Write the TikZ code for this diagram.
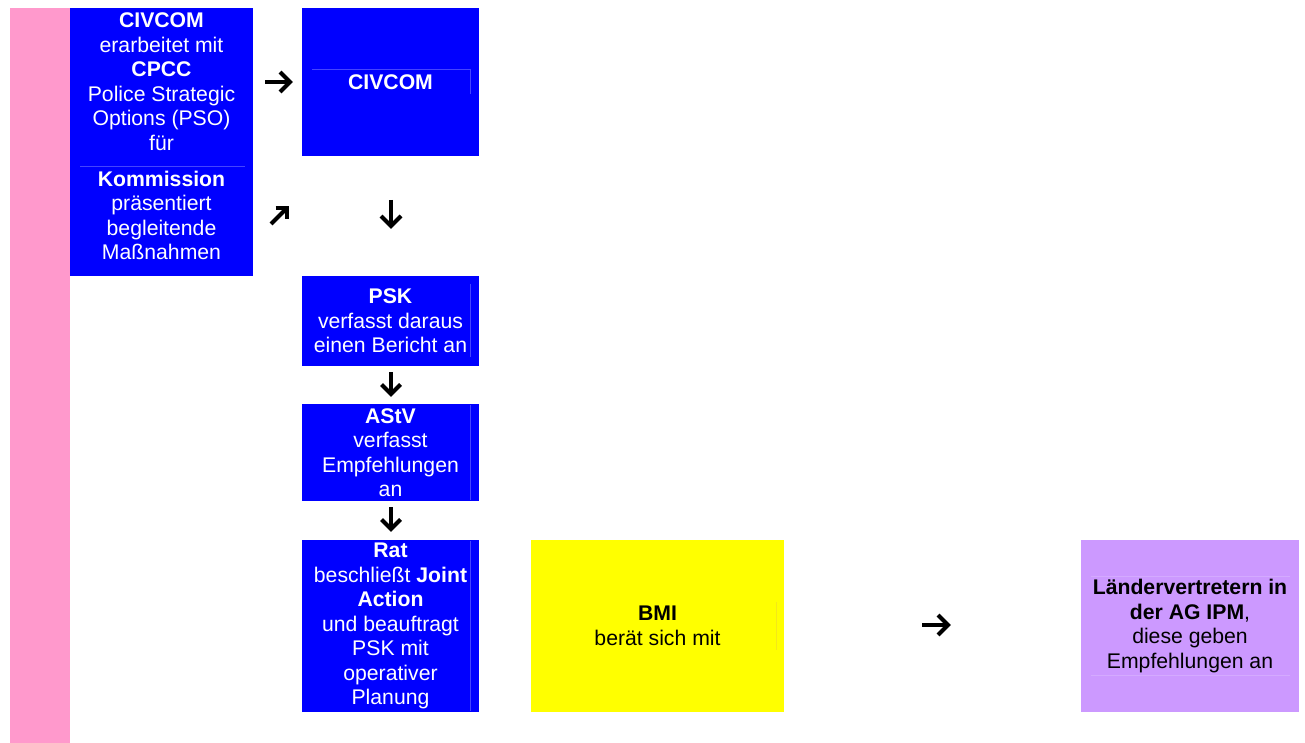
\documentclass[tikz,border=0pt]{standalone}
\usepackage{fontspec}
\setmainfont{Liberation Sans}
\definecolor{boxblue}{HTML}{0000FF}
\definecolor{barpink}{HTML}{FF99CC}
\definecolor{boxyellow}{HTML}{FFFF00}
\definecolor{boxpurple}{HTML}{CC99FF}
\definecolor{faintblue}{HTML}{4444FF}
\definecolor{faintpurple}{HTML}{D4AAFF}
\begin{document}
\begin{tikzpicture}[x=1pt,y=-1pt,
  every node/.style={font=\fontsize{21.2}{24.5}\selectfont},
  bluebox/.style={fill=boxblue,draw=none,inner sep=0pt,text=white,align=center},
  yellowbox/.style={fill=boxyellow,draw=none,inner sep=0pt,text=black,align=center},
  purplebox/.style={fill=boxpurple,draw=none,inner sep=0pt,text=black,align=center},
  txt/.style={inner sep=0pt,align=center},
  glyph/.style={line width=4.2pt,line cap=butt,line join=miter,black},
  faint/.style={line width=0.5pt}]
\useasboundingbox (0,0) rectangle (1305,743);
\fill[white] (0,0) rectangle (1305,743);
% pink bar
\node[fill=barpink,inner sep=0pt,minimum width=60pt,minimum height=735pt] (bar) at (40,375.5) {};
% box 1
\node[bluebox,minimum width=183pt,minimum height=268pt] (b1) at (161.5,142) {};
\node[txt,text=white] (b1a) at (161.5,81.5) {\textbf{CIVCOM}\\erarbeitet mit\\\textbf{CPCC}\\Police Strategic\\Options (PSO)\\für};
\node[txt,text=white] (b1b) at (161.5,215.5) {\textbf{Kommission}\\präsentiert\\begleitende\\Maßnahmen};
\draw[faint,faintblue] (80,166) -- (245,166);
% CIVCOM box
\node[bluebox,minimum width=177pt,minimum height=148pt] (civ) at (390.5,82) {\textbf{CIVCOM}};
\draw[faint,faintblue] (312,69) -- (470,69) -- (470,94);
% PSK
\node[bluebox,minimum width=177pt,minimum height=90pt] (psk) at (390.5,321) {\textbf{PSK}\\verfasst daraus\\einen Bericht an};
\draw[faint,faintblue] (470,284) -- (470,357);
% AStV
\node[bluebox,minimum width=177pt,minimum height=97pt] (astv) at (390.5,452.5) {\textbf{AStV}\\verfasst\\Empfehlungen\\an};
\draw[faint,faintblue] (470,405) -- (470,500);
% Rat
\node[bluebox,minimum width=177pt,minimum height=172pt] (rat) at (390.5,626) {\textbf{Rat}\\beschließt \textbf{Joint}\\\textbf{Action}\\und beauftragt\\PSK mit\\operativer\\Planung};
\draw[faint,faintblue] (470,541) -- (470,711);
% BMI
\node[yellowbox,minimum width=253pt,minimum height=172pt] (bmi) at (657.5,626) {\textbf{BMI}\\berät sich mit};
\draw[faint,yellow!90!gray] (776.5,602) -- (776.5,650);
% Laendervertreter
\node[purplebox,minimum width=218pt,minimum height=172pt] (lv) at (1190,626) {\textbf{Ländervertretern in}\\\textbf{der AG IPM},\\diese geben\\Empfehlungen an};
\draw[faint,faintpurple] (1091,576) -- (1290,576);
\draw[faint,faintpurple] (1091,675) -- (1290,675);
% arrow glyphs
\draw[glyph] (265,82) -- (290,82);
\draw[glyph] (280,72) -- (290,82) -- (280,92);
\draw[glyph] (271,224) -- (287,208);
\draw[glyph] (275.5,208) -- (287,208) -- (287,219.5);
\draw[glyph] (391,200) -- (391,226);
\draw[glyph] (381,216) -- (391,226) -- (401,216);
\draw[glyph] (391,372) -- (391,394);
\draw[glyph] (381.5,384.5) -- (391,394) -- (400.5,384.5);
\draw[glyph] (391,507) -- (391,529);
\draw[glyph] (381.5,519.5) -- (391,529) -- (400.5,519.5);
\draw[glyph] (922,625) -- (948,625);
\draw[glyph] (938,615) -- (948,625) -- (938,635);
\end{tikzpicture}
\end{document}
